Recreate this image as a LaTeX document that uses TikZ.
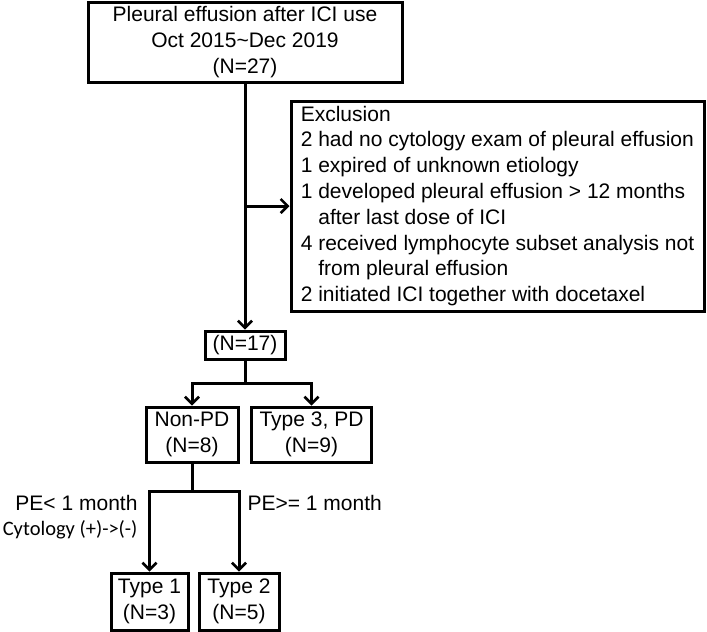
\documentclass[tikz,border=0pt]{standalone}
\usepackage{fontspec}
\setmainfont{Liberation Sans}
\newfontfamily\calibrifont{Carlito}
\usetikzlibrary{arrows.meta, positioning, calc}

\begin{document}
\begin{tikzpicture}[
    x=1pt, y=-1pt,
    every node/.style={font=\fontsize{21}{25.8}\selectfont},
    box/.style={rectangle, draw, line width=3pt, inner sep=0pt, align=center},
    arrow/.style={-{Straight Barb[length=7pt, width=14pt, line width=2.6pt]}, line width=3pt},
    line/.style={line width=3pt}
]
\useasboundingbox (0,0) rectangle (707,632);

\node[box, minimum width=314pt, minimum height=80pt] (start) at (245,42)
    {Pleural effusion after ICI use\\ Oct 2015\char`~Dec 2019\\ (N=27)};
\node[box, align=left, minimum width=413pt, minimum height=210pt] (exclusion) at (497.5,206)
    {Exclusion\\
    2 had no cytology exam of pleural effusion\\
    1 expired of unknown etiology\\
    1 developed pleural effusion > 12 months\\
    \phantom{1 }after last dose of ICI\\
    4 received lymphocyte subset analysis not\\
    \phantom{4 }from pleural effusion\\
    2 initiated ICI together with docetaxel};
\node[box, minimum width=80pt, minimum height=28pt] (remain) at (245,345) {(N=17)};
\node[box, minimum width=92pt, minimum height=55pt] (nonpd) at (192,434.5) {Non-PD\\ (N=8)};
\node[box, minimum width=120pt, minimum height=55pt] (type3) at (311.5,434.5) {Type 3, PD\\ (N=9)};
\node[box, minimum width=77pt, minimum height=57pt] (type1) at (149.5,601.5) {Type 1\\ (N=3)};
\node[box, minimum width=80pt, minimum height=57pt] (type2) at (239,601.5) {Type 2\\ (N=5)};

% Branch labels
\node[anchor=east] (short) at (141,503) {PE< 1 month};
\node[anchor=east, font=\calibrifont\fontsize{20.5}{24}\selectfont] (cyto) at (141,530) {Cytology (+)->(-)};
\node[anchor=west] (long) at (244,503) {PE>= 1 month};

\coordinate (excl branch) at (start.south |- exclusion.west);
\draw[arrow] (start.south) -- (remain.north);
\draw[arrow] (excl branch) -- (exclusion.west);

\draw[line] (remain.south) -- ++(0,23) coordinate (split);
\draw[arrow] (split) -| (nonpd.north);
\draw[arrow] (split) -| (type3.north);

\draw[line] (nonpd.south) -- ++(0,28) coordinate (split2);
\draw[arrow] (split2) -| (type1.north);
\draw[arrow] (split2) -| (type2.north);

\end{tikzpicture}
\end{document}
